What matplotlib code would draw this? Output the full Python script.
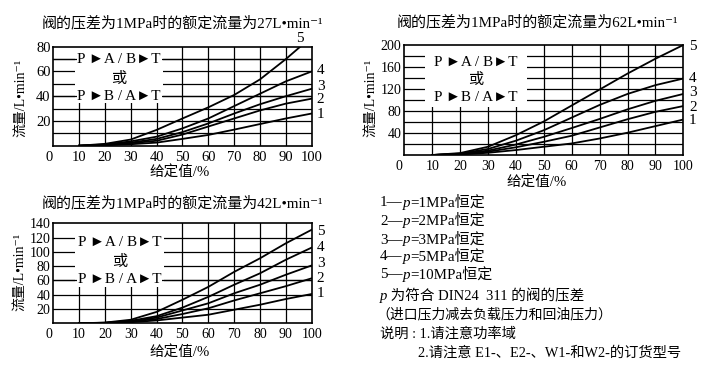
import matplotlib
matplotlib.use("Agg")
import matplotlib.pyplot as plt
from matplotlib.patches import Rectangle

plt.rcParams['font.family'] = ['Liberation Serif', 'Noto Sans CJK SC', 'DejaVu Sans']

# 给定值 (%)
x_pct = [10, 20, 30, 40, 50, 60, 70, 80, 90, 100]

# 27 L/min 阀, 曲线 1..5
flow27 = [
    [0, 0.4, 1.2, 2.5, 5.5, 8.7, 13, 17.5, 22, 26],
    [0, 0.6, 2, 4, 9, 15.5, 22, 28.5, 34, 38],
    [0, 0.8, 2.5, 5.5, 11, 18, 26, 33.5, 40, 46],
    [0, 1, 3.5, 7.3, 14, 22, 32, 42, 52, 60],
    [0, 1.5, 5, 12.8, 22, 31, 41, 53.6, 70, 88],
]
# 62 L/min 阀
flow62 = [
    [0, 1, 4, 9, 15, 21, 30, 40.5, 52.5, 64.5],
    [0, 1.5, 6, 14, 24, 35, 50, 65, 78.5, 89],
    [0, 2, 8, 19, 33, 49, 65.5, 83, 98.5, 111],
    [0, 2.5, 11, 26, 45, 68, 91, 111, 127, 139],
    [0, 3.5, 15, 36, 61, 90, 119, 148, 175, 200],
]
# 42 L/min 阀
flow42 = [
    [0, 0.3, 1.5, 4, 8, 12, 19, 26, 34, 41],
    [0, 0.5, 2.5, 6, 13, 21, 32, 42, 52, 63],
    [0, 0.6, 3, 8, 18, 28, 42, 54, 68, 81],
    [0, 0.8, 3.5, 10, 22, 37, 54, 70, 89, 106],
    [0, 1, 5, 16, 33, 51, 72, 91, 112, 131],
]
curve_names = ['1', '2', '3', '4', '5']

note_num = ['1', '2', '3', '4', '5']
note_mpa = ['1', '2', '3', '5', '10']

W, H = 704, 373
fig = plt.figure(figsize=(W / 100, H / 100), dpi=100)
bg = fig.add_axes([0, 0, 1, 1])
bg.axis('off')
bg.set_xlim(0, W)
bg.set_ylim(H, 0)


def px_axes(l, t, r, b):
    return fig.add_axes([l / W, 1 - b / H, (r - l) / W, (b - t) / H])


def draw_panel(ax, curves, ymax, ystep, ylabels, box, over_lines, rows, lab_pos, fs):
    ax.set_xlim(0, 100)
    ax.set_ylim(0, ymax)
    for gx in range(10, 100, 10):
        ax.axvline(gx, color='black', lw=0.9, zorder=1)
    for gy in range(ystep, ymax, ystep):
        ax.axhline(gy, color='black', lw=0.9, zorder=1)
    # 白底文字框
    ax.add_patch(Rectangle((box[0], box[1]), box[2] - box[0], box[3] - box[1],
                           facecolor='white', edgecolor='none', zorder=2))
    for gy in over_lines:
        ax.axhline(gy, color='black', lw=0.9, zorder=3)
    cx = (box[0] + box[2]) / 2
    for (txt, ty) in zip(['P ►A / B►T', '或', 'P ►B / A►T'], rows):
        ax.text(cx, ty, txt, ha='center', va='center', fontsize=11, zorder=4,
                bbox=dict(facecolor='white', edgecolor='none', pad=0.5))
    for ys in curves:
        ax.plot(x_pct, ys, color='black', lw=1.3, zorder=5)
    for name, (lx, ly) in zip(curve_names, lab_pos):
        ax.text(lx, ly, name, ha='left', va='center', fontsize=11, clip_on=False)
    ax.set_xticks(range(10, 101, 10))
    ax.set_yticks(ylabels)
    ax.tick_params(length=0, labelsize=fs, pad=2)
    ax.tick_params(axis='x', pad=3.5)
    ax.annotate('0', xy=(-1.8, 0), xycoords=('data', 'axes fraction'),
                xytext=(0, -3.5), textcoords='offset points',
                ha='center', va='top', fontsize=fs)
    for s in ax.spines.values():
        s.set_linewidth(1.2)


ax1 = px_axes(53.3, 46.7, 311.7, 145.7)
draw_panel(ax1, flow27, 80, 10, [20, 40, 60, 80], (8.5, 37, 42.5, 80), [70, 40],
           [70, 53.6, 40],
           [(102, 25), (102, 37), (102, 47.6), (102, 61), (94, 87)], 10.5)

ax2 = px_axes(404.3, 45, 683.3, 155)
draw_panel(ax2, flow62, 200, 20, [40, 80, 120, 160, 200], (7.5, 88, 44, 200), [],
           [169, 136, 104.6],
           [(102, 62), (102, 87), (102, 114), (102, 139), (102, 197)], 10)

ax3 = px_axes(53.3, 223.3, 311.7, 323.3)
draw_panel(ax3, flow42, 140, 20, [20, 40, 60, 80, 100, 120, 140], (8.5, 52, 43, 140), [60],
           [114, 86, 61.6],
           [(102, 42), (102, 63), (102, 84), (102, 106), (102, 128)], 10)

titles = [('阀的压差为1MPa时的额定流量为27L•min⁻¹', 182, 23),
          ('阀的压差为1MPa时的额定流量为62L•min⁻¹', 537, 22),
          ('阀的压差为1MPa时的额定流量为42L•min⁻¹', 182, 203)]
for t, tx, ty in titles:
    bg.text(tx, ty, t, ha='center', va='center', fontsize=10.8)

for tx, ty in [(180, 173), (537, 183), (180, 353)]:
    bg.text(tx, ty, '给定值/%', ha='center', va='center', fontsize=10.5)

for tx, ty in [(21, 98), (371, 98), (20, 272)]:
    bg.text(tx, ty, '流量/L•min⁻¹', ha='center', va='center',
            rotation=90, fontsize=10)


def chain(x, y, parts, fs):
    t = bg.text(x, y, parts[0][0], style=parts[0][1], ha='left', va='center', fontsize=fs)
    for s, st in parts[1:]:
        t = bg.annotate(s, xy=(1, 0), xycoords=t, style=st, ha='left', va='bottom',
                        fontsize=fs)
    return t


note_y = [203, 221.7, 240, 257, 275]
for n, m, ny in zip(note_num, note_mpa, note_y):
    chain(380, ny, [(n + '—', 'normal'), ('p', 'italic'), ('=' + m + 'MPa恒定', 'normal')], 10.8)

chain(380, 296.7, [('p', 'italic'), (' 为符合 DIN24  311 的阀的压差', 'normal')], 10.5)
bg.text(376, 315, '（进口压力减去负载压力和回油压力）', ha='left', va='center', fontsize=10)
bg.text(380, 334, '说明 : 1.请注意功率域', ha='left', va='center', fontsize=10.3)
bg.text(418, 353, '2.请注意 E1-、E2-、W1-和W2-的订货型号', ha='left', va='center', fontsize=10.3)

fig.savefig('out.png', dpi=100, facecolor='white')
